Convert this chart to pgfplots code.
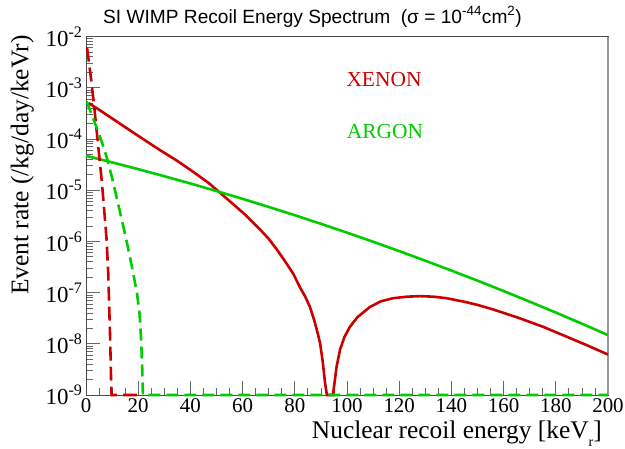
\documentclass[border=0pt]{standalone}
\usepackage{pgfplots}
\pgfplotsset{compat=1.18}
\usepackage{fontspec}
\setmainfont{Liberation Serif}
\newfontfamily\arial{Liberation Sans}
\definecolor{xered}{RGB}{204,0,0}
\definecolor{argreen}{RGB}{0,204,0}

\begin{document}
\begin{tikzpicture}
\begin{axis}[
    scale only axis,
    width=522bp, height=358.5bp,
    ymode=log,
    xmin=0, xmax=200, ymin=1e-9, ymax=1e-2,
    axis line style={black!70, line width=0.9bp},
    xtick={0,20,...,200}, minor x tick num=3,
    ytick={1e-9,1e-8,1e-7,1e-6,1e-5,1e-4,1e-3,1e-2},
    yticklabels={10\textsuperscript{-9},10\textsuperscript{-8},10\textsuperscript{-7},10\textsuperscript{-6},10\textsuperscript{-5},10\textsuperscript{-4},10\textsuperscript{-3},10\textsuperscript{-2}},
    minor ytick={2e-9,3e-9,4e-9,5e-9,6e-9,7e-9,8e-9,9e-9,
                 2e-8,3e-8,4e-8,5e-8,6e-8,7e-8,8e-8,9e-8,
                 2e-7,3e-7,4e-7,5e-7,6e-7,7e-7,8e-7,9e-7,
                 2e-6,3e-6,4e-6,5e-6,6e-6,7e-6,8e-6,9e-6,
                 2e-5,3e-5,4e-5,5e-5,6e-5,7e-5,8e-5,9e-5,
                 2e-4,3e-4,4e-4,5e-4,6e-4,7e-4,8e-4,9e-4,
                 2e-3,3e-3,4e-3,5e-3,6e-3,7e-3,8e-3,9e-3},
    xtick pos=bottom, ytick pos=left, tick align=inside,
    major tick length=14bp, minor tick length=7bp,
    tick style={black!60, line width=0.8bp},
    /pgf/number format/assume math mode=true,
    xticklabel style={font=\fontsize{21}{21}\selectfont},
    yticklabel style={font=\fontsize{23}{23}\selectfont},
    clip=false,
    every axis plot/.append style={line width=2.6bp, no marks},
]
\draw[black!40, line width=1.6bp] (rel axis cs:1,0) -- (rel axis cs:1,1);
% xenon, solid
\addplot[xered] coordinates {
(1,5.01e-4)(5,3.72e-4)(10,2.51e-4)(15,1.70e-4)(20,1.148e-4)(28.4,6.03e-5)
(35,3.72e-5)(41,2.29e-5)(47,1.38e-5)(52,8.32e-6)(57,5.01e-6)(61,3.31e-6)
(66.7,1.70e-6)(70,1.122e-6)(73,7.08e-7)(76,4.27e-7)(79.4,2.34e-7)(82,1.259e-7)
(84,8.32e-8)(85.8,5.25e-8)(87.5,2.82e-8)(88.8,1.585e-8)(89.7,1.023e-8)
(90.7,4.47e-9)(91.6,1.70e-9)(92.3,1e-9)(94.6,1e-9)(95.2,1.70e-9)(96,3.55e-9)
(97.3,7.59e-9)(99,1.35e-8)(101.1,2.14e-8)(104,3.31e-8)(108.8,5.25e-8)
(113,6.76e-8)(117.7,7.76e-8)(123,8.32e-8)(128,8.51e-8)(133,8.32e-8)
(138.2,7.76e-8)(145,6.61e-8)(150,5.75e-8)(156,4.68e-8)(165,3.31e-8)
(175.2,2.14e-8)(185,1.32e-8)(192,9.33e-9)(200,6.17e-9)
};
% argon, solid
\addplot[argreen] coordinates {
(0,4.68e-5)(10,3.49e-5)(20,2.57e-5)(30,1.87e-5)(40,1.35e-5)(50,9.60e-6)
(60,6.76e-6)(70,4.70e-6)(80,3.24e-6)(90,2.20e-6)(100,1.48e-6)(110,9.83e-7)
(120,6.46e-7)(130,4.19e-7)(140,2.69e-7)(150,1.71e-7)(160,1.07e-7)
(170,6.65e-8)(180,4.07e-8)(190,2.47e-8)(200,1.48e-8)
};
% xenon, dashed
\addplot[xered, dash pattern=on 14bp off 6bp] coordinates {
(0.4,6.03e-3)(1,3.55e-3)(2,1.41e-3)(3,5.01e-4)(4,1.585e-4)(5,5.01e-5)
(6,1.585e-5)(7,3.98e-6)(7.9,1.07e-6)(8.5,2.51e-7)(8.9,5.25e-8)(9.3,1e-8)
(9.6,2.0e-9)(9.8,1e-9)(21.8,1e-9)
};
% argon, dashed
\addplot[argreen, dash pattern=on 12bp off 6bp] coordinates {
(0.3,5.37e-4)(2,3.16e-4)(4,1.70e-4)(6,8.91e-5)(8,4.27e-5)(10,1.74e-5)
(12,6.31e-6)(14,2.29e-6)(16,7.94e-7)(18,2.51e-7)(19.5,1e-7)(20.5,3.98e-8)
(21.1,1.26e-8)(21.5,3.98e-9)(21.8,1e-9)(200,1e-9)
};
\end{axis}
\node[font=\arial\fontsize{19.2}{19.2}\selectfont] at (226.5bp,378bp)
  {SI WIMP Recoil Energy Spectrum\ \ (σ = 10\textsuperscript{-44}cm\textsuperscript{2})};
\node[text=xered, font=\fontsize{21.5}{21.5}\selectfont] at (298bp,315bp) {XENON};
\node[text=argreen, font=\fontsize{21.5}{21.5}\selectfont] at (299bp,263.5bp) {ARGON};
\node[anchor=base east, font=\fontsize{25.5}{25.5}\selectfont, inner sep=0pt] at (516bp,-43bp)
  {Nuclear recoil energy [keV\raisebox{-8bp}{\fontsize{14}{14}\selectfont r}]};
\node[rotate=90, anchor=base east, font=\fontsize{25.5}{25.5}\selectfont, inner sep=0pt] at (-57.7bp,360bp)
  {Event rate (/kg/day/keVr)};
\pgfresetboundingbox
\path[use as bounding box] (-86bp,-54bp) rectangle (539bp,395bp);
\end{tikzpicture}
\end{document}
